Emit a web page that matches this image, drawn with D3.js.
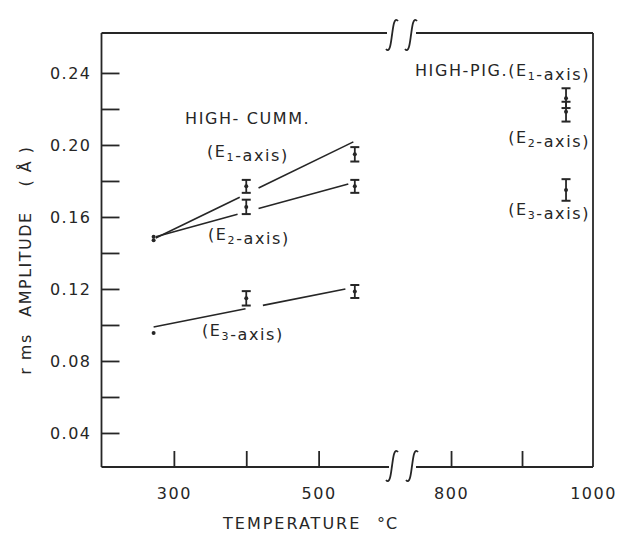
<!DOCTYPE html>
<html>
<head>
<meta charset="utf-8">
<script src="https://cdn.jsdelivr.net/npm/d3@7"></script>
<style>
  html, body { margin: 0; padding: 0; background: #fff; }
  svg { display: block; }
  text { font-family: "DejaVu Sans", sans-serif; fill: #262626; }
</style>
</head>
<body>
<svg id="chart" width="619" height="534"></svg>
<script>
// ---- data ----
const cummTemps = [272, 400, 550];
const cummE1 = [0.149, 0.177, 0.1948];
const cummE1Err = [0, 0.0036, 0.004];
const cummE2 = [0.147, 0.1656, 0.177];
const cummE2Err = [0, 0.004, 0.0036];
const cummE3 = [0.0956, 0.1148, 0.1186];
const cummE3Err = [0, 0.004, 0.0036];

const pigTemps = [962, 962, 962];
const pigValues = [0.226, 0.2185, 0.175];
const pigErr = [0.0055, 0.0055, 0.006];

// fitted lines (two segments each, broken around the error bars)
const fitE1T = [[275, 391], [417, 548]];
const fitE1V = [[0.1483, 0.1710], [0.1761, 0.2017]];
const fitE2T = [[275, 388], [417, 541]];
const fitE2V = [[0.1490, 0.1615], [0.1647, 0.1783]];
const fitE3T = [[272, 399], [423, 537]];
const fitE3V = [[0.0989, 0.1090], [0.1109, 0.1200]];

const yTickValues = [0.04, 0.06, 0.08, 0.10, 0.12, 0.14, 0.16, 0.18, 0.20, 0.22, 0.24];
const yLabelValues = [0.04, 0.08, 0.12, 0.16, 0.20, 0.24];
const yLabelText = ["0.04", "0.08", "0.12", "0.16", "0.20", "0.24"];
const xTickValues = [300, 400, 500, 800, 900];
const xLabelValues = [300, 500, 800, 1000];
const xLabelText = ["300", "500", "800", "1000"];

(function () {
// ---- layout ----
const svg = d3.select("#chart");
const ink = "#262626";
const pLeft = 101.5, pRight = 593, pTop = 33, pBottom = 467;

const x = d3.scaleLinear().domain([200, 600, 745, 1000]).range([pLeft, 391, 412, pRight]);
const y = d3.scaleLinear().domain([0.0211, 0.2622]).range([pBottom, pTop]);

// frame
const frame = svg.append("g").attr("stroke", ink).attr("stroke-width", 1.8).attr("fill", "none");
frame.append("line").attr("x1", pLeft).attr("x2", pLeft).attr("y1", pTop).attr("y2", pBottom);
frame.append("line").attr("x1", pRight).attr("x2", pRight).attr("y1", pTop).attr("y2", pBottom);
frame.append("line").attr("x1", pLeft).attr("x2", 387).attr("y1", pTop).attr("y2", pTop);
frame.append("line").attr("x1", 416).attr("x2", pRight).attr("y1", pTop).attr("y2", pTop);
frame.append("line").attr("x1", pLeft).attr("x2", 389).attr("y1", pBottom).attr("y2", pBottom);
frame.append("line").attr("x1", 416).attr("x2", pRight).attr("y1", pBottom).attr("y2", pBottom);

// break symbols (integral-like S curves)
function sCurve(cx, cy, h) {
  const a = h / 2;
  return `M${cx - 6},${cy + a - 3} C${cx - 2},${cy + a + 2} ${cx - 1},${cy + a * 0.4} ${cx},${cy}` +
         ` C${cx + 1},${cy - a * 0.4} ${cx + 2},${cy - a - 2} ${cx + 6},${cy - a + 3}`;
}
[[392, 35], [411, 35], [392, 466], [412, 466]].forEach(([cx, cy]) => {
  svg.append("path").attr("d", sCurve(cx, cy, 34))
    .attr("fill", "none").attr("stroke", ink).attr("stroke-width", 1.8);
});

// y axis ticks (inside)
const yAxisG = svg.append("g").attr("transform", `translate(${pLeft},0)`)
  .call(d3.axisRight(y).tickValues(yTickValues).tickSize(18).tickFormat(""));
yAxisG.select(".domain").remove();
yAxisG.selectAll("line").attr("stroke", ink).attr("stroke-width", 1.8);

const yLab = svg.append("g").attr("transform", `translate(${pLeft},0)`)
  .call(d3.axisLeft(y).tickValues(yLabelValues).tickSize(0).tickPadding(10)
    .tickFormat((d, i) => yLabelText[i]));
yLab.select(".domain").remove();
yLab.selectAll("text").attr("font-size", 16).attr("letter-spacing", 1.5)
  .attr("font-family", "DejaVu Sans").attr("fill", ink);

// x axis ticks (inside, upward)
const xAxisG = svg.append("g").attr("transform", `translate(0,${pBottom})`)
  .call(d3.axisTop(x).tickValues(xTickValues).tickSize(16).tickFormat(""));
xAxisG.select(".domain").remove();
xAxisG.selectAll("line").attr("stroke", ink).attr("stroke-width", 1.8);

const xLab = svg.append("g").attr("transform", `translate(0,${pBottom})`)
  .call(d3.axisBottom(x).tickValues(xLabelValues).tickSize(0).tickPadding(21)
    .tickFormat((d, i) => xLabelText[i]));
xLab.select(".domain").remove();
xLab.selectAll("text").attr("font-size", 16).attr("letter-spacing", 1.5)
  .attr("font-family", "DejaVu Sans").attr("fill", ink);

// axis titles
svg.append("text").attr("x", 223).attr("y", 529).attr("font-size", 16)
  .attr("letter-spacing", 2).text("TEMPERATURE");
svg.append("text").attr("x", 377).attr("y", 529).attr("font-size", 16)
  .attr("letter-spacing", 1).text("°C");

const yTitle = [["r ms", 354], ["AMPLITUDE", 264], ["( Å )", 166]];
yTitle.forEach(([t, cy]) => {
  svg.append("text").attr("transform", `translate(31,${cy}) rotate(-90)`)
    .attr("text-anchor", "middle").attr("font-size", 16).attr("letter-spacing", 1.5).text(t);
});

// fitted lines
const lineG = svg.append("g").attr("stroke", ink).attr("stroke-width", 1.6).attr("fill", "none");
[[fitE1T, fitE1V], [fitE2T, fitE2V], [fitE3T, fitE3V]].forEach(([ts, vs]) => {
  ts.forEach((seg, i) => {
    lineG.append("line")
      .attr("x1", x(seg[0])).attr("y1", y(vs[i][0]))
      .attr("x2", x(seg[1])).attr("y2", y(vs[i][1]));
  });
});

// error bars with centre dots
function errBar(t, v, e) {
  const g = svg.append("g").attr("stroke", ink).attr("stroke-width", 1.8);
  const cx = x(t);
  if (e > 0) {
    g.append("line").attr("x1", cx).attr("x2", cx).attr("y1", y(v - e)).attr("y2", y(v + e));
    g.append("line").attr("x1", cx - 4.5).attr("x2", cx + 4.5).attr("y1", y(v - e)).attr("y2", y(v - e)).attr("stroke-width", 2);
    g.append("line").attr("x1", cx - 4.5).attr("x2", cx + 4.5).attr("y1", y(v + e)).attr("y2", y(v + e)).attr("stroke-width", 2);
  }
  svg.append("circle").attr("cx", cx).attr("cy", y(v)).attr("r", 2).attr("fill", ink);
}
cummTemps.forEach((t, i) => {
  errBar(t, cummE1[i], cummE1Err[i]);
  errBar(t, cummE2[i], cummE2Err[i]);
  errBar(t, cummE3[i], cummE3Err[i]);
});
pigTemps.forEach((t, i) => errBar(t, pigValues[i], pigErr[i]));

// annotations
function label(xp, yp, parts, anchor) {
  const t = svg.append("text").attr("x", xp).attr("y", yp).attr("font-size", 16)
    .attr("letter-spacing", 1.6).attr("text-anchor", anchor || "start");
  parts.forEach(p => {
    if (p.sub) {
      t.append("tspan").attr("dy", 4).attr("font-size", 11).text(p.sub);
      t.append("tspan").attr("dy", -4).text("");
    } else {
      t.append("tspan").text(p.t);
    }
  });
  return t;
}
label(185, 124, [{ t: "HIGH- CUMM." }]);
label(207, 157, [{ t: "(E" }, { sub: "1" }, { t: "-axis)" }]);
label(208, 240, [{ t: "(E" }, { sub: "2" }, { t: "-axis)" }]);
label(202, 336, [{ t: "(E" }, { sub: "3" }, { t: "-axis)" }]);
label(590, 76, [{ t: "HIGH-PIG.(E" }, { sub: "1" }, { t: "-axis)" }], "end");
label(590, 143, [{ t: "(E" }, { sub: "2" }, { t: "-axis)" }], "end");
label(590, 215, [{ t: "(E" }, { sub: "3" }, { t: "-axis)" }], "end");
})();
</script>
</body>
</html>
